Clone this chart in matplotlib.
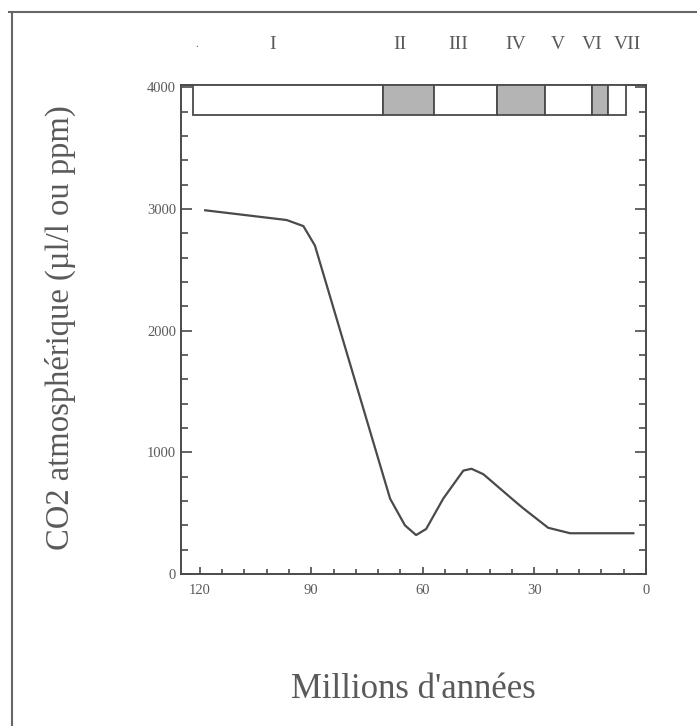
import matplotlib
matplotlib.use("Agg")
import matplotlib.pyplot as plt
from matplotlib.lines import Line2D
from matplotlib.patches import Rectangle
from matplotlib.ticker import MultipleLocator

# CO2 curve (millions of years before present, ppm)
age_ma = [118.5, 96.6, 92.1, 89.0, 68.8, 64.8, 61.8,
          59.1, 54.5, 49.1, 46.9, 43.7, 36.1, 33.0, 26.3, 20.4, 3.4]
co2_ppm = [2990, 2910, 2860, 2700, 620, 400, 320,
           370, 620, 850, 865, 820, 620, 540, 380, 335, 335]

# period band across the top
band_edges = [121.7, 70.8, 57.0, 40.0, 27.2, 14.6, 10.2, 5.3]
band_shaded = [False, True, False, True, False, True, False]
period_labels = [".", "I", "II", "III", "IV", "V", "VI", "VII"]
period_label_x = [120.7, 100.5, 66.1, 50.5, 35.0, 23.7, 14.5, 5.1]

x_ticks = [120, 90, 60, 30, 0]
y_ticks = [0, 1000, 2000, 3000, 4000]

INK = "#4a4a4a"
TXT = "#5a5a5a"
SERIF = ["Liberation Serif", "DejaVu Serif"]

plt.rcParams["font.family"] = SERIF

fig = plt.figure(figsize=(6.97, 7.26), dpi=100)
ax = fig.add_axes([181 / 697, 152 / 726, 465 / 697, 489 / 726])

ax.plot(age_ma, co2_ppm, color=INK, lw=1.6, solid_joinstyle="round")

band_bottom, band_top = 3775, 4020
for i, shaded in enumerate(band_shaded):
    x0, x1 = band_edges[i + 1], band_edges[i]
    ax.add_patch(Rectangle((x0, band_bottom), x1 - x0, band_top - band_bottom,
                           facecolor="#b4b4b4" if shaded else "white",
                           edgecolor=INK, lw=1.3, zorder=3))

for lab, xv in zip(period_labels, period_label_x):
    ax.text(xv, 1.082, lab, transform=ax.get_xaxis_transform(),
            ha="center", va="center", fontsize=14 if lab != "." else 8,
            color=TXT)

ax.set_xlim(125, 0)
ax.set_ylim(0, 4020)
ax.set_xticks(x_ticks)
ax.set_yticks(y_ticks)
ax.xaxis.set_minor_locator(MultipleLocator(6))
ax.yaxis.set_minor_locator(MultipleLocator(200))

for side in ["left", "right", "bottom", "top"]:
    ax.spines[side].set_color(INK)
    ax.spines[side].set_linewidth(1.4)
ax.tick_params(which="both", direction="in", color=INK, width=1.2,
               left=True, right=True, bottom=True, top=False,
               labelright=False)
ax.tick_params(which="major", length=8, labelsize=10.5, labelcolor=TXT)
ax.tick_params(which="minor", length=5)
ax.tick_params(axis="x", which="major", length=5, pad=7)
ax.tick_params(axis="x", which="minor", length=3.5)

fig.text(60 / 697, 1 - 328 / 726, "CO2 atmosphérique (µl/l ou ppm)",
         rotation=90, ha="center", va="center", fontsize=23.5, color=TXT)
fig.text(413 / 697, 1 - 690 / 726, "Millions d'années",
         ha="center", va="center", fontsize=25, color=TXT)

# page frame (left and top edges)
fig.add_artist(Line2D([12 / 697, 12 / 697], [0, 1 - 12 / 726],
                      transform=fig.transFigure, color="#666666", lw=1.5))
fig.add_artist(Line2D([9 / 697, 1], [1 - 12 / 726, 1 - 12 / 726],
                      transform=fig.transFigure, color="#666666", lw=1.5))

fig.savefig("out.png", dpi=100)
